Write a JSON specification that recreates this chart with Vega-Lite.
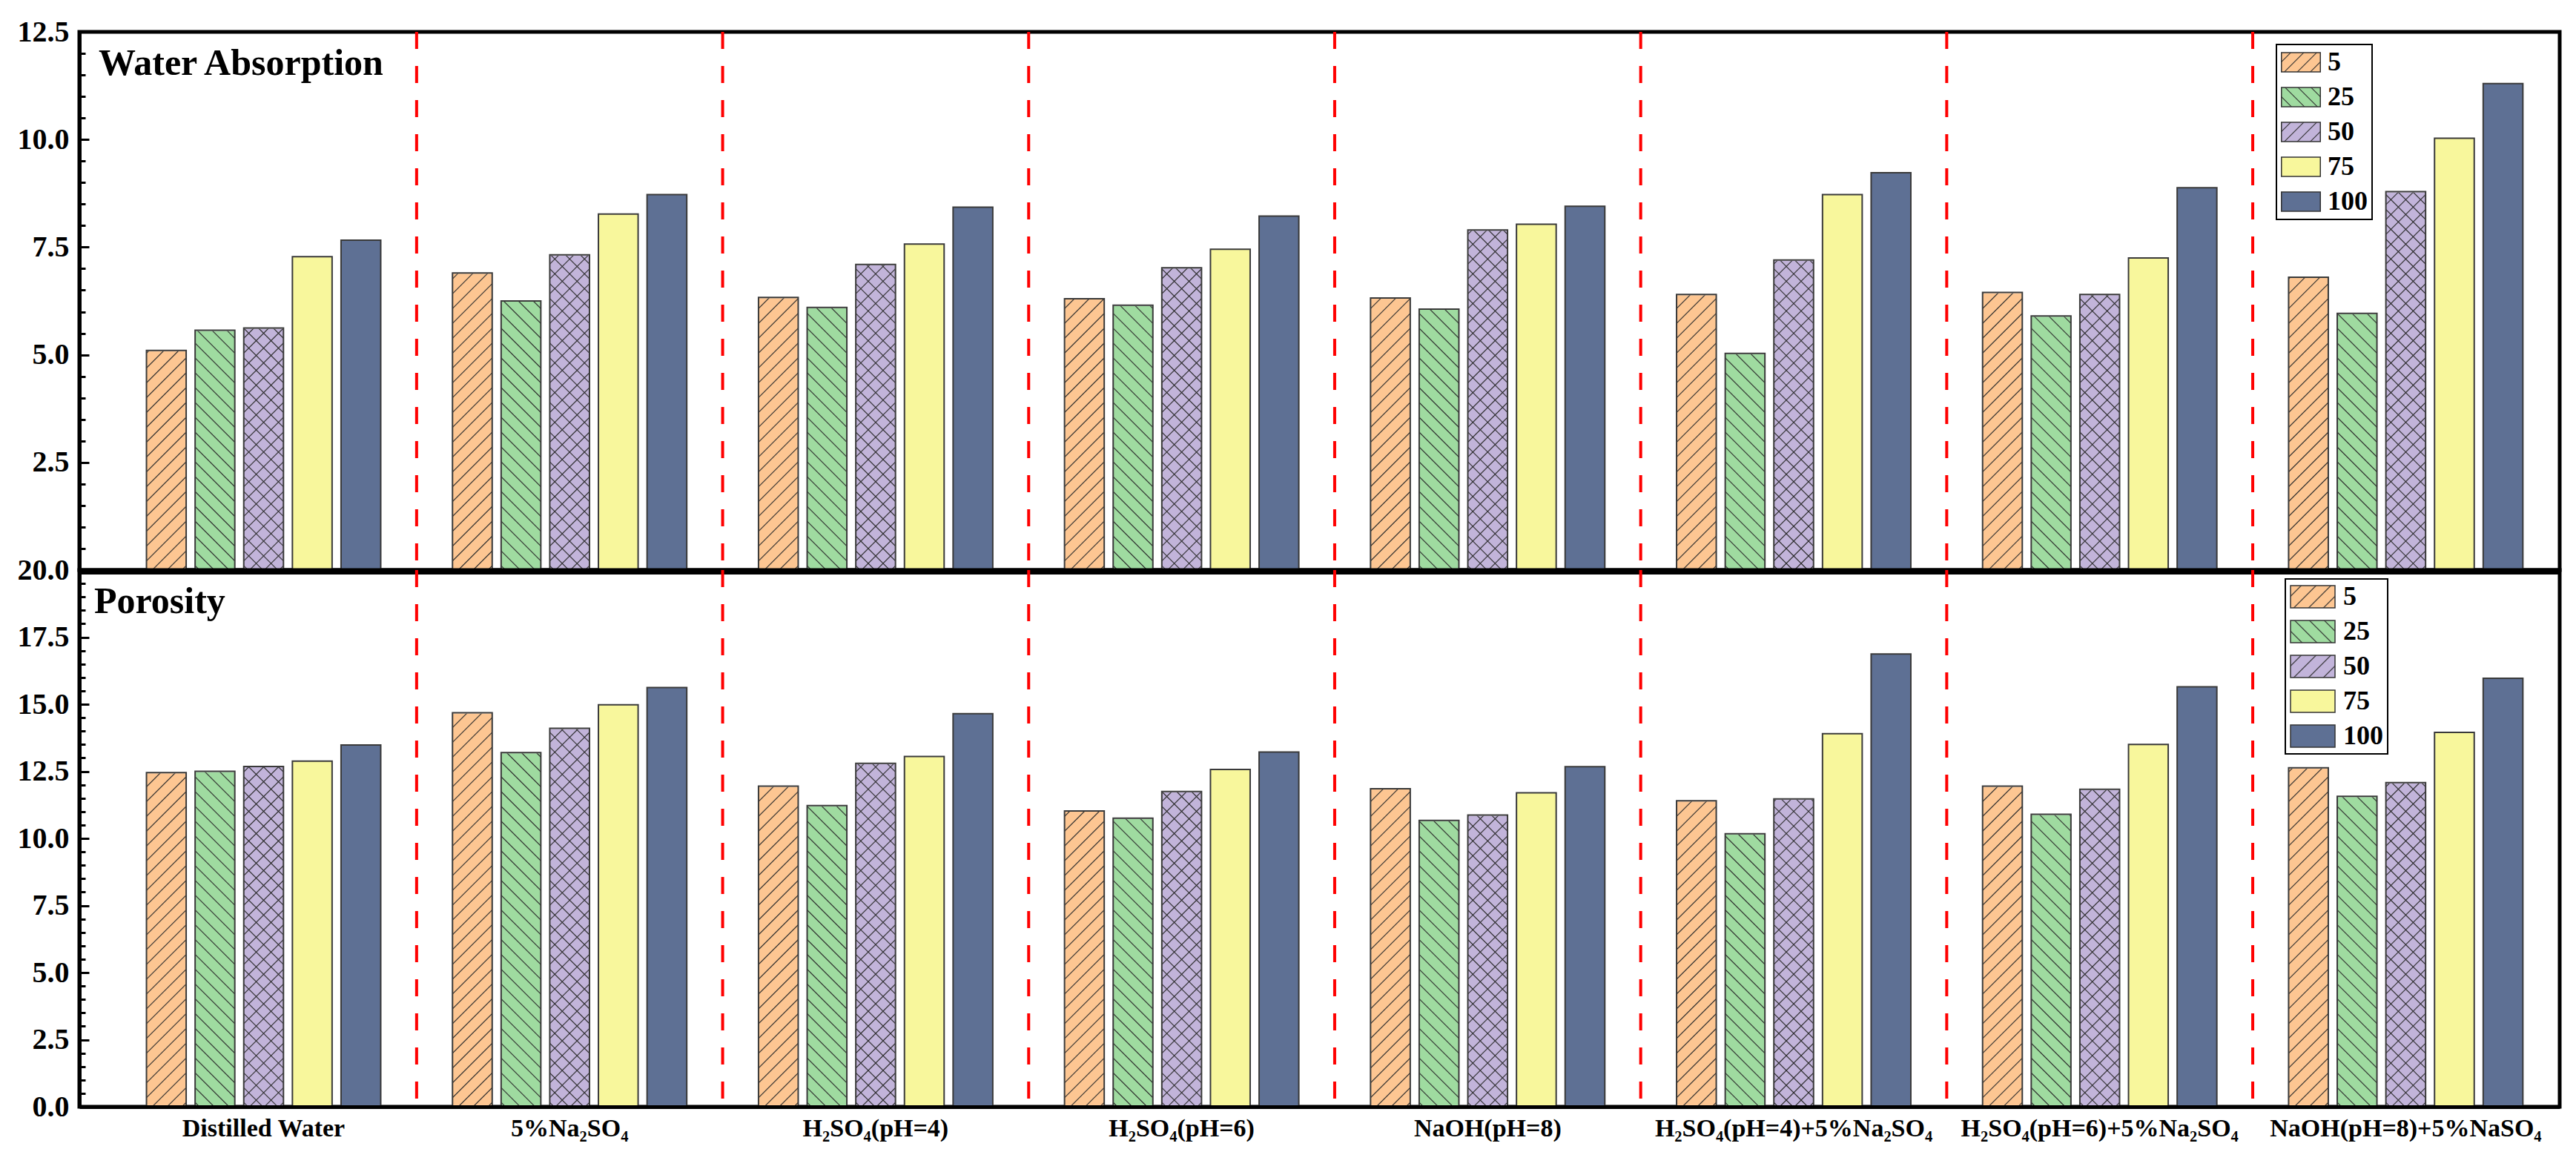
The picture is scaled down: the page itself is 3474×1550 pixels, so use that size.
{
"$schema":"https://vega.github.io/schema/vega-lite/v6.json",
"background":"white",
"padding":{"left":20,"top":20,"right":0,"bottom":0},
"bounds":"flush",
"spacing":0,
"datasets":{
"wa":[
{"c":"Distilled Water","l":"5","v":5.1},{"c":"Distilled Water","l":"25","v":5.57},{"c":"Distilled Water","l":"50","v":5.62},{"c":"Distilled Water","l":"75","v":7.28},{"c":"Distilled Water","l":"100","v":7.66},
{"c":"5%Na₂SO₄","l":"5","v":6.9},{"c":"5%Na₂SO₄","l":"25","v":6.25},{"c":"5%Na₂SO₄","l":"50","v":7.32},{"c":"5%Na₂SO₄","l":"75","v":8.27},{"c":"5%Na₂SO₄","l":"100","v":8.72},
{"c":"H₂SO₄(pH=4)","l":"5","v":6.33},{"c":"H₂SO₄(pH=4)","l":"25","v":6.1},{"c":"H₂SO₄(pH=4)","l":"50","v":7.1},{"c":"H₂SO₄(pH=4)","l":"75","v":7.57},{"c":"H₂SO₄(pH=4)","l":"100","v":8.43},
{"c":"H₂SO₄(pH=6)","l":"5","v":6.3},{"c":"H₂SO₄(pH=6)","l":"25","v":6.15},{"c":"H₂SO₄(pH=6)","l":"50","v":7.02},{"c":"H₂SO₄(pH=6)","l":"75","v":7.45},{"c":"H₂SO₄(pH=6)","l":"100","v":8.22},
{"c":"NaOH(pH=8)","l":"5","v":6.32},{"c":"NaOH(pH=8)","l":"25","v":6.06},{"c":"NaOH(pH=8)","l":"50","v":7.9},{"c":"NaOH(pH=8)","l":"75","v":8.03},{"c":"NaOH(pH=8)","l":"100","v":8.45},
{"c":"H₂SO₄(pH=4)+5%Na₂SO₄","l":"5","v":6.4},{"c":"H₂SO₄(pH=4)+5%Na₂SO₄","l":"25","v":5.03},{"c":"H₂SO₄(pH=4)+5%Na₂SO₄","l":"50","v":7.2},{"c":"H₂SO₄(pH=4)+5%Na₂SO₄","l":"75","v":8.72},{"c":"H₂SO₄(pH=4)+5%Na₂SO₄","l":"100","v":9.23},
{"c":"H₂SO₄(pH=6)+5%Na₂SO₄","l":"5","v":6.45},{"c":"H₂SO₄(pH=6)+5%Na₂SO₄","l":"25","v":5.9},{"c":"H₂SO₄(pH=6)+5%Na₂SO₄","l":"50","v":6.4},{"c":"H₂SO₄(pH=6)+5%Na₂SO₄","l":"75","v":7.25},{"c":"H₂SO₄(pH=6)+5%Na₂SO₄","l":"100","v":8.88},
{"c":"NaOH(pH=8)+5%NaSO₄","l":"5","v":6.8},{"c":"NaOH(pH=8)+5%NaSO₄","l":"25","v":5.96},{"c":"NaOH(pH=8)+5%NaSO₄","l":"50","v":8.79},{"c":"NaOH(pH=8)+5%NaSO₄","l":"75","v":10.03},{"c":"NaOH(pH=8)+5%NaSO₄","l":"100","v":11.3}
],
"po":[
{"c":"Distilled Water","l":"5","v":12.45},{"c":"Distilled Water","l":"25","v":12.5},{"c":"Distilled Water","l":"50","v":12.68},{"c":"Distilled Water","l":"75","v":12.88},{"c":"Distilled Water","l":"100","v":13.48},
{"c":"5%Na₂SO₄","l":"5","v":14.68},{"c":"5%Na₂SO₄","l":"25","v":13.2},{"c":"5%Na₂SO₄","l":"50","v":14.1},{"c":"5%Na₂SO₄","l":"75","v":14.98},{"c":"5%Na₂SO₄","l":"100","v":15.62},
{"c":"H₂SO₄(pH=4)","l":"5","v":11.95},{"c":"H₂SO₄(pH=4)","l":"25","v":11.22},{"c":"H₂SO₄(pH=4)","l":"50","v":12.8},{"c":"H₂SO₄(pH=4)","l":"75","v":13.05},{"c":"H₂SO₄(pH=4)","l":"100","v":14.65},
{"c":"H₂SO₄(pH=6)","l":"5","v":11.02},{"c":"H₂SO₄(pH=6)","l":"25","v":10.75},{"c":"H₂SO₄(pH=6)","l":"50","v":11.75},{"c":"H₂SO₄(pH=6)","l":"75","v":12.57},{"c":"H₂SO₄(pH=6)","l":"100","v":13.22},
{"c":"NaOH(pH=8)","l":"5","v":11.85},{"c":"NaOH(pH=8)","l":"25","v":10.67},{"c":"NaOH(pH=8)","l":"50","v":10.87},{"c":"NaOH(pH=8)","l":"75","v":11.7},{"c":"NaOH(pH=8)","l":"100","v":12.67},
{"c":"H₂SO₄(pH=4)+5%Na₂SO₄","l":"5","v":11.4},{"c":"H₂SO₄(pH=4)+5%Na₂SO₄","l":"25","v":10.17},{"c":"H₂SO₄(pH=4)+5%Na₂SO₄","l":"50","v":11.47},{"c":"H₂SO₄(pH=4)+5%Na₂SO₄","l":"75","v":13.9},{"c":"H₂SO₄(pH=4)+5%Na₂SO₄","l":"100","v":16.87},
{"c":"H₂SO₄(pH=6)+5%Na₂SO₄","l":"5","v":11.95},{"c":"H₂SO₄(pH=6)+5%Na₂SO₄","l":"25","v":10.9},{"c":"H₂SO₄(pH=6)+5%Na₂SO₄","l":"50","v":11.83},{"c":"H₂SO₄(pH=6)+5%Na₂SO₄","l":"75","v":13.5},{"c":"H₂SO₄(pH=6)+5%Na₂SO₄","l":"100","v":15.65},
{"c":"NaOH(pH=8)+5%NaSO₄","l":"5","v":12.63},{"c":"NaOH(pH=8)+5%NaSO₄","l":"25","v":11.57},{"c":"NaOH(pH=8)+5%NaSO₄","l":"50","v":12.08},{"c":"NaOH(pH=8)+5%NaSO₄","l":"75","v":13.95},{"c":"NaOH(pH=8)+5%NaSO₄","l":"100","v":15.97}
],
"sep":[{"c":"Distilled Water"},{"c":"5%Na₂SO₄"},{"c":"H₂SO₄(pH=4)"},{"c":"H₂SO₄(pH=6)"},{"c":"NaOH(pH=8)"},{"c":"H₂SO₄(pH=4)+5%Na₂SO₄"},{"c":"H₂SO₄(pH=6)+5%Na₂SO₄"}]
},
"vconcat":[
{
"width":3345,"height":726,
"title":{"text":"Water Absorption","offset":-88,"dx":26},
"resolve":{"axis":{"y":"independent"}},
"layer":[
{"data":{"name":"wa"},"mark":{"type":"bar"},
"encoding":{
"x":{"field":"c","type":"nominal","scale":{"domain":["Distilled Water","5%Na₂SO₄","H₂SO₄(pH=4)","H₂SO₄(pH=6)","NaOH(pH=8)","H₂SO₄(pH=4)+5%Na₂SO₄","H₂SO₄(pH=6)+5%Na₂SO₄","NaOH(pH=8)+5%NaSO₄"],"paddingInner":0,"paddingOuter":0.0526,"align":0.971},"axis":{"title":null,"labels":false,"ticks":false,"domain":true,"offset":3,"zindex":1}},
"xOffset":{"field":"l","type":"nominal","scale":{"domain":["5","25","50","75","100"],"paddingInner":0.184,"paddingOuter":0.7375}},
"y":{"field":"v","type":"quantitative","scale":{"domain":[0,12.5],"nice":false},"axis":{"orient":"left","title":null,"values":[2.5,5,7.5,10,12.5],"format":".1f","tickSize":-13,"labelPadding":27,"labelOverlap":false,"labelFlush":false,"labelFontSize":40}},
"color":{"field":"l","type":"nominal","scale":{"domain":["5","25","50","75","100"],"range":["#FDC692","#9FDBA0","#C2B4DA","#F8F79C","#5E7094"]},"legend":null},
"opacity":{"field":"l","type":"ordinal","sort":["5","25","50","75","100"],"scale":{"type":"ordinal","range":[1,1,1,1,1]},
"legend":{"title":null,"orient":"none","legendX":2963,"legendY":17,"direction":"vertical","symbolType":"M-1,-0.5H1V0.5H-1Z","symbolSize":2756,"clipHeight":36,"rowPadding":11,"padding":6,"labelOffset":9,"labelFont":"Liberation Serif","labelFontWeight":"bold","labelFontSize":36,"labelColor":"black","labelLimit":0,"strokeColor":"black","fillColor":"white","symbolStrokeColor":"#333333","symbolStrokeWidth":1.5,
"encoding":{"symbols":{"fill":{"condition":[
{"test":"datum.value == '5'","value":{"gradient":"linear","x1":0,"y1":0,"x2":1.24,"y2":0.62,"stops":[{"offset":0.1373,"color":"#FDC692"},{"offset":0.1553,"color":"#2b2b2b"},{"offset":0.1733,"color":"#FDC692"},{"offset":0.3524,"color":"#FDC692"},{"offset":0.3704,"color":"#2b2b2b"},{"offset":0.3884,"color":"#FDC692"},{"offset":0.5674,"color":"#FDC692"},{"offset":0.5854,"color":"#2b2b2b"},{"offset":0.6034,"color":"#FDC692"},{"offset":0.7824,"color":"#FDC692"},{"offset":0.8004,"color":"#2b2b2b"},{"offset":0.8184,"color":"#FDC692"}]}},
{"test":"datum.value == '25'","value":{"gradient":"linear","x1":1,"y1":0,"x2":-0.24,"y2":0.62,"stops":[{"offset":0.1373,"color":"#9FDBA0"},{"offset":0.1553,"color":"#2b2b2b"},{"offset":0.1733,"color":"#9FDBA0"},{"offset":0.3524,"color":"#9FDBA0"},{"offset":0.3704,"color":"#2b2b2b"},{"offset":0.3884,"color":"#9FDBA0"},{"offset":0.5674,"color":"#9FDBA0"},{"offset":0.5854,"color":"#2b2b2b"},{"offset":0.6034,"color":"#9FDBA0"},{"offset":0.7824,"color":"#9FDBA0"},{"offset":0.8004,"color":"#2b2b2b"},{"offset":0.8184,"color":"#9FDBA0"}]}},
{"test":"datum.value == '50'","value":{"gradient":"linear","x1":0,"y1":0,"x2":1.24,"y2":0.62,"stops":[{"offset":0.1373,"color":"#C2B4DA"},{"offset":0.1553,"color":"#2b2b2b"},{"offset":0.1733,"color":"#C2B4DA"},{"offset":0.3524,"color":"#C2B4DA"},{"offset":0.3704,"color":"#2b2b2b"},{"offset":0.3884,"color":"#C2B4DA"},{"offset":0.5674,"color":"#C2B4DA"},{"offset":0.5854,"color":"#2b2b2b"},{"offset":0.6034,"color":"#C2B4DA"},{"offset":0.7824,"color":"#C2B4DA"},{"offset":0.8004,"color":"#2b2b2b"},{"offset":0.8184,"color":"#C2B4DA"}]}},
{"test":"datum.value == '75'","value":"#F8F79C"}],"value":"#5E7094"},"stroke":{"value":"#333333"},"strokeWidth":{"value":1.5}}}}}
}},
{"data":{"name":"wa"},"transform":[{"filter":{"field":"l","equal":"5"}}],"mark":{"type":"bar","fill":"#FDC692"},
"encoding":{"x":{"field":"c","type":"nominal"},"xOffset":{"field":"l","type":"nominal"},"y":{"datum":0,"axis":null},"y2":{"datum":10}}},
{"data":{"name":"wa"},"transform":[{"filter":{"field":"l","equal":"25"}}],"mark":{"type":"bar","fill":"#9FDBA0"},
"encoding":{"x":{"field":"c","type":"nominal"},"xOffset":{"field":"l","type":"nominal"},"y":{"datum":0,"axis":null},"y2":{"datum":10}}},
{"data":{"name":"wa"},"transform":[{"filter":{"field":"l","equal":"50"}}],"mark":{"type":"bar","fill":"#C2B4DA"},
"encoding":{"x":{"field":"c","type":"nominal"},"xOffset":{"field":"l","type":"nominal"},"y":{"datum":0,"axis":null},"y2":{"datum":10}}},
{"data":{"name":"wa"},"transform":[{"filter":{"field":"l","oneOf":["5","50"]}}],
"mark":{"type":"bar","fill":{"gradient":"linear","x1":0,"y1":0,"x2":0.10147,"y2":1.1,"stops":[{"offset":0.0095,"color":"rgba(43,43,43,0)"},{"offset":0.012,"color":"#2b2b2b"},{"offset":0.0145,"color":"rgba(43,43,43,0)"},{"offset":0.0406,"color":"rgba(43,43,43,0)"},{"offset":0.0431,"color":"#2b2b2b"},{"offset":0.0456,"color":"rgba(43,43,43,0)"},{"offset":0.0717,"color":"rgba(43,43,43,0)"},{"offset":0.0742,"color":"#2b2b2b"},{"offset":0.0767,"color":"rgba(43,43,43,0)"},{"offset":0.1028,"color":"rgba(43,43,43,0)"},{"offset":0.1053,"color":"#2b2b2b"},{"offset":0.1078,"color":"rgba(43,43,43,0)"},{"offset":0.1338,"color":"rgba(43,43,43,0)"},{"offset":0.1363,"color":"#2b2b2b"},{"offset":0.1388,"color":"rgba(43,43,43,0)"},{"offset":0.1649,"color":"rgba(43,43,43,0)"},{"offset":0.1674,"color":"#2b2b2b"},{"offset":0.1699,"color":"rgba(43,43,43,0)"},{"offset":0.196,"color":"rgba(43,43,43,0)"},{"offset":0.1985,"color":"#2b2b2b"},{"offset":0.201,"color":"rgba(43,43,43,0)"},{"offset":0.2271,"color":"rgba(43,43,43,0)"},{"offset":0.2296,"color":"#2b2b2b"},{"offset":0.2321,"color":"rgba(43,43,43,0)"},{"offset":0.2582,"color":"rgba(43,43,43,0)"},{"offset":0.2607,"color":"#2b2b2b"},{"offset":0.2632,"color":"rgba(43,43,43,0)"},{"offset":0.2893,"color":"rgba(43,43,43,0)"},{"offset":0.2918,"color":"#2b2b2b"},{"offset":0.2943,"color":"rgba(43,43,43,0)"},{"offset":0.3204,"color":"rgba(43,43,43,0)"},{"offset":0.3229,"color":"#2b2b2b"},{"offset":0.3254,"color":"rgba(43,43,43,0)"},{"offset":0.3514,"color":"rgba(43,43,43,0)"},{"offset":0.3539,"color":"#2b2b2b"},{"offset":0.3564,"color":"rgba(43,43,43,0)"},{"offset":0.3825,"color":"rgba(43,43,43,0)"},{"offset":0.385,"color":"#2b2b2b"},{"offset":0.3875,"color":"rgba(43,43,43,0)"},{"offset":0.4136,"color":"rgba(43,43,43,0)"},{"offset":0.4161,"color":"#2b2b2b"},{"offset":0.4186,"color":"rgba(43,43,43,0)"},{"offset":0.4447,"color":"rgba(43,43,43,0)"},{"offset":0.4472,"color":"#2b2b2b"},{"offset":0.4497,"color":"rgba(43,43,43,0)"},{"offset":0.4758,"color":"rgba(43,43,43,0)"},{"offset":0.4783,"color":"#2b2b2b"},{"offset":0.4808,"color":"rgba(43,43,43,0)"},{"offset":0.5069,"color":"rgba(43,43,43,0)"},{"offset":0.5094,"color":"#2b2b2b"},{"offset":0.5119,"color":"rgba(43,43,43,0)"},{"offset":0.5379,"color":"rgba(43,43,43,0)"},{"offset":0.5404,"color":"#2b2b2b"},{"offset":0.5429,"color":"rgba(43,43,43,0)"},{"offset":0.569,"color":"rgba(43,43,43,0)"},{"offset":0.5715,"color":"#2b2b2b"},{"offset":0.574,"color":"rgba(43,43,43,0)"},{"offset":0.6001,"color":"rgba(43,43,43,0)"},{"offset":0.6026,"color":"#2b2b2b"},{"offset":0.6051,"color":"rgba(43,43,43,0)"},{"offset":0.6312,"color":"rgba(43,43,43,0)"},{"offset":0.6337,"color":"#2b2b2b"},{"offset":0.6362,"color":"rgba(43,43,43,0)"},{"offset":0.6623,"color":"rgba(43,43,43,0)"},{"offset":0.6648,"color":"#2b2b2b"},{"offset":0.6673,"color":"rgba(43,43,43,0)"},{"offset":0.6934,"color":"rgba(43,43,43,0)"},{"offset":0.6959,"color":"#2b2b2b"},{"offset":0.6984,"color":"rgba(43,43,43,0)"},{"offset":0.7245,"color":"rgba(43,43,43,0)"},{"offset":0.727,"color":"#2b2b2b"},{"offset":0.7295,"color":"rgba(43,43,43,0)"},{"offset":0.7555,"color":"rgba(43,43,43,0)"},{"offset":0.758,"color":"#2b2b2b"},{"offset":0.7605,"color":"rgba(43,43,43,0)"},{"offset":0.7866,"color":"rgba(43,43,43,0)"},{"offset":0.7891,"color":"#2b2b2b"},{"offset":0.7916,"color":"rgba(43,43,43,0)"},{"offset":0.8177,"color":"rgba(43,43,43,0)"},{"offset":0.8202,"color":"#2b2b2b"},{"offset":0.8227,"color":"rgba(43,43,43,0)"},{"offset":0.8488,"color":"rgba(43,43,43,0)"},{"offset":0.8513,"color":"#2b2b2b"},{"offset":0.8538,"color":"rgba(43,43,43,0)"},{"offset":0.8799,"color":"rgba(43,43,43,0)"},{"offset":0.8824,"color":"#2b2b2b"},{"offset":0.8849,"color":"rgba(43,43,43,0)"},{"offset":0.911,"color":"rgba(43,43,43,0)"},{"offset":0.9135,"color":"#2b2b2b"},{"offset":0.916,"color":"rgba(43,43,43,0)"},{"offset":0.9421,"color":"rgba(43,43,43,0)"},{"offset":0.9446,"color":"#2b2b2b"},{"offset":0.9471,"color":"rgba(43,43,43,0)"},{"offset":0.9731,"color":"rgba(43,43,43,0)"},{"offset":0.9756,"color":"#2b2b2b"},{"offset":0.9781,"color":"rgba(43,43,43,0)"}]}},
"encoding":{"x":{"field":"c","type":"nominal"},"xOffset":{"field":"l","type":"nominal"},"y":{"datum":0,"axis":null},"y2":{"datum":10}}},
{"data":{"name":"wa"},"transform":[{"filter":{"field":"l","oneOf":["25","50"]}}],
"mark":{"type":"bar","fill":{"gradient":"linear","x1":1,"y1":0,"x2":0.89853,"y2":1.1,"stops":[{"offset":0.0095,"color":"rgba(43,43,43,0)"},{"offset":0.012,"color":"#2b2b2b"},{"offset":0.0145,"color":"rgba(43,43,43,0)"},{"offset":0.0406,"color":"rgba(43,43,43,0)"},{"offset":0.0431,"color":"#2b2b2b"},{"offset":0.0456,"color":"rgba(43,43,43,0)"},{"offset":0.0717,"color":"rgba(43,43,43,0)"},{"offset":0.0742,"color":"#2b2b2b"},{"offset":0.0767,"color":"rgba(43,43,43,0)"},{"offset":0.1028,"color":"rgba(43,43,43,0)"},{"offset":0.1053,"color":"#2b2b2b"},{"offset":0.1078,"color":"rgba(43,43,43,0)"},{"offset":0.1338,"color":"rgba(43,43,43,0)"},{"offset":0.1363,"color":"#2b2b2b"},{"offset":0.1388,"color":"rgba(43,43,43,0)"},{"offset":0.1649,"color":"rgba(43,43,43,0)"},{"offset":0.1674,"color":"#2b2b2b"},{"offset":0.1699,"color":"rgba(43,43,43,0)"},{"offset":0.196,"color":"rgba(43,43,43,0)"},{"offset":0.1985,"color":"#2b2b2b"},{"offset":0.201,"color":"rgba(43,43,43,0)"},{"offset":0.2271,"color":"rgba(43,43,43,0)"},{"offset":0.2296,"color":"#2b2b2b"},{"offset":0.2321,"color":"rgba(43,43,43,0)"},{"offset":0.2582,"color":"rgba(43,43,43,0)"},{"offset":0.2607,"color":"#2b2b2b"},{"offset":0.2632,"color":"rgba(43,43,43,0)"},{"offset":0.2893,"color":"rgba(43,43,43,0)"},{"offset":0.2918,"color":"#2b2b2b"},{"offset":0.2943,"color":"rgba(43,43,43,0)"},{"offset":0.3204,"color":"rgba(43,43,43,0)"},{"offset":0.3229,"color":"#2b2b2b"},{"offset":0.3254,"color":"rgba(43,43,43,0)"},{"offset":0.3514,"color":"rgba(43,43,43,0)"},{"offset":0.3539,"color":"#2b2b2b"},{"offset":0.3564,"color":"rgba(43,43,43,0)"},{"offset":0.3825,"color":"rgba(43,43,43,0)"},{"offset":0.385,"color":"#2b2b2b"},{"offset":0.3875,"color":"rgba(43,43,43,0)"},{"offset":0.4136,"color":"rgba(43,43,43,0)"},{"offset":0.4161,"color":"#2b2b2b"},{"offset":0.4186,"color":"rgba(43,43,43,0)"},{"offset":0.4447,"color":"rgba(43,43,43,0)"},{"offset":0.4472,"color":"#2b2b2b"},{"offset":0.4497,"color":"rgba(43,43,43,0)"},{"offset":0.4758,"color":"rgba(43,43,43,0)"},{"offset":0.4783,"color":"#2b2b2b"},{"offset":0.4808,"color":"rgba(43,43,43,0)"},{"offset":0.5069,"color":"rgba(43,43,43,0)"},{"offset":0.5094,"color":"#2b2b2b"},{"offset":0.5119,"color":"rgba(43,43,43,0)"},{"offset":0.5379,"color":"rgba(43,43,43,0)"},{"offset":0.5404,"color":"#2b2b2b"},{"offset":0.5429,"color":"rgba(43,43,43,0)"},{"offset":0.569,"color":"rgba(43,43,43,0)"},{"offset":0.5715,"color":"#2b2b2b"},{"offset":0.574,"color":"rgba(43,43,43,0)"},{"offset":0.6001,"color":"rgba(43,43,43,0)"},{"offset":0.6026,"color":"#2b2b2b"},{"offset":0.6051,"color":"rgba(43,43,43,0)"},{"offset":0.6312,"color":"rgba(43,43,43,0)"},{"offset":0.6337,"color":"#2b2b2b"},{"offset":0.6362,"color":"rgba(43,43,43,0)"},{"offset":0.6623,"color":"rgba(43,43,43,0)"},{"offset":0.6648,"color":"#2b2b2b"},{"offset":0.6673,"color":"rgba(43,43,43,0)"},{"offset":0.6934,"color":"rgba(43,43,43,0)"},{"offset":0.6959,"color":"#2b2b2b"},{"offset":0.6984,"color":"rgba(43,43,43,0)"},{"offset":0.7245,"color":"rgba(43,43,43,0)"},{"offset":0.727,"color":"#2b2b2b"},{"offset":0.7295,"color":"rgba(43,43,43,0)"},{"offset":0.7555,"color":"rgba(43,43,43,0)"},{"offset":0.758,"color":"#2b2b2b"},{"offset":0.7605,"color":"rgba(43,43,43,0)"},{"offset":0.7866,"color":"rgba(43,43,43,0)"},{"offset":0.7891,"color":"#2b2b2b"},{"offset":0.7916,"color":"rgba(43,43,43,0)"},{"offset":0.8177,"color":"rgba(43,43,43,0)"},{"offset":0.8202,"color":"#2b2b2b"},{"offset":0.8227,"color":"rgba(43,43,43,0)"},{"offset":0.8488,"color":"rgba(43,43,43,0)"},{"offset":0.8513,"color":"#2b2b2b"},{"offset":0.8538,"color":"rgba(43,43,43,0)"},{"offset":0.8799,"color":"rgba(43,43,43,0)"},{"offset":0.8824,"color":"#2b2b2b"},{"offset":0.8849,"color":"rgba(43,43,43,0)"},{"offset":0.911,"color":"rgba(43,43,43,0)"},{"offset":0.9135,"color":"#2b2b2b"},{"offset":0.916,"color":"rgba(43,43,43,0)"},{"offset":0.9421,"color":"rgba(43,43,43,0)"},{"offset":0.9446,"color":"#2b2b2b"},{"offset":0.9471,"color":"rgba(43,43,43,0)"},{"offset":0.9731,"color":"rgba(43,43,43,0)"},{"offset":0.9756,"color":"#2b2b2b"},{"offset":0.9781,"color":"rgba(43,43,43,0)"}]}},
"encoding":{"x":{"field":"c","type":"nominal"},"xOffset":{"field":"l","type":"nominal"},"y":{"datum":0,"axis":null},"y2":{"datum":10}}},
{"data":{"name":"wa"},"transform":[{"filter":{"field":"l","oneOf":["5","25","50"]}}],"mark":{"type":"bar","fill":"white","stroke":"white","strokeWidth":2},
"encoding":{"x":{"field":"c","type":"nominal"},"xOffset":{"field":"l","type":"nominal"},"y":{"field":"v","type":"quantitative","axis":null},"y2":{"datum":10}}},
{"data":{"name":"wa"},"mark":{"type":"bar","fillOpacity":0,"stroke":"#3a3a3a","strokeWidth":2},
"encoding":{"x":{"field":"c","type":"nominal"},"xOffset":{"field":"l","type":"nominal"},"y":{"field":"v","type":"quantitative","axis":{"orient":"left","title":null,"values":[0.5,1,1.5,2,3,3.5,4,4.5,5.5,6,6.5,7,8,8.5,9,9.5,10.5,11,11.5,12],"labels":false,"domain":false,"tickSize":-8,"grid":false}}}},
{"data":{"name":"sep"},"mark":{"type":"rule","color":"#ff0000","strokeWidth":4,"strokeDash":[23,23]},
"encoding":{"x":{"field":"c","type":"nominal","bandPosition":1}}}
]
},
{
"width":3345,"height":724,
"title":{"text":"Porosity","offset":-88,"dx":20},
"resolve":{"axis":{"y":"independent"}},
"layer":[
{"data":{"name":"po"},"mark":{"type":"bar"},
"encoding":{
"x":{"field":"c","type":"nominal","scale":{"domain":["Distilled Water","5%Na₂SO₄","H₂SO₄(pH=4)","H₂SO₄(pH=6)","NaOH(pH=8)","H₂SO₄(pH=4)+5%Na₂SO₄","H₂SO₄(pH=6)+5%Na₂SO₄","NaOH(pH=8)+5%NaSO₄"],"paddingInner":0,"paddingOuter":0.0526,"align":0.971},"axis":{"title":null,"ticks":false,"labelPadding":12,"labelAngle":0,"labelFontSize":34,"labelLimit":0,"labelOverlap":false,"zindex":1}},
"xOffset":{"field":"l","type":"nominal","scale":{"domain":["5","25","50","75","100"],"paddingInner":0.184,"paddingOuter":0.7375}},
"y":{"field":"v","type":"quantitative","scale":{"domain":[0,20],"nice":false},"axis":{"orient":"left","title":null,"values":[0,2.5,5,7.5,10,12.5,15,17.5,20],"format":".1f","tickSize":-13,"labelPadding":27,"labelOverlap":false,"labelFlush":false,"labelFontSize":40}},
"color":{"field":"l","type":"nominal","scale":{"domain":["5","25","50","75","100"],"range":["#FDC692","#9FDBA0","#C2B4DA","#F8F79C","#5E7094"]},"legend":null},
"opacity":{"field":"l","type":"ordinal","sort":["5","25","50","75","100"],"scale":{"type":"ordinal","range":[1,1,1,1,1]},
"legend":{"title":null,"orient":"none","legendX":2975,"legendY":12,"direction":"vertical","symbolType":"M-1,-0.5H1V0.5H-1Z","symbolSize":3600,"clipHeight":36,"rowPadding":11,"padding":6,"labelOffset":10,"labelFont":"Liberation Serif","labelFontWeight":"bold","labelFontSize":36,"labelColor":"black","labelLimit":0,"strokeColor":"black","fillColor":"white","symbolStrokeColor":"#333333","symbolStrokeWidth":1.5,
"encoding":{"symbols":{"fill":{"condition":[
{"test":"datum.value == '5'","value":{"gradient":"linear","x1":0,"y1":0,"x2":1.24,"y2":0.62,"stops":[{"offset":0.1373,"color":"#FDC692"},{"offset":0.1553,"color":"#2b2b2b"},{"offset":0.1733,"color":"#FDC692"},{"offset":0.3524,"color":"#FDC692"},{"offset":0.3704,"color":"#2b2b2b"},{"offset":0.3884,"color":"#FDC692"},{"offset":0.5674,"color":"#FDC692"},{"offset":0.5854,"color":"#2b2b2b"},{"offset":0.6034,"color":"#FDC692"},{"offset":0.7824,"color":"#FDC692"},{"offset":0.8004,"color":"#2b2b2b"},{"offset":0.8184,"color":"#FDC692"}]}},
{"test":"datum.value == '25'","value":{"gradient":"linear","x1":1,"y1":0,"x2":-0.24,"y2":0.62,"stops":[{"offset":0.1373,"color":"#9FDBA0"},{"offset":0.1553,"color":"#2b2b2b"},{"offset":0.1733,"color":"#9FDBA0"},{"offset":0.3524,"color":"#9FDBA0"},{"offset":0.3704,"color":"#2b2b2b"},{"offset":0.3884,"color":"#9FDBA0"},{"offset":0.5674,"color":"#9FDBA0"},{"offset":0.5854,"color":"#2b2b2b"},{"offset":0.6034,"color":"#9FDBA0"},{"offset":0.7824,"color":"#9FDBA0"},{"offset":0.8004,"color":"#2b2b2b"},{"offset":0.8184,"color":"#9FDBA0"}]}},
{"test":"datum.value == '50'","value":{"gradient":"linear","x1":0,"y1":0,"x2":1.24,"y2":0.62,"stops":[{"offset":0.1373,"color":"#C2B4DA"},{"offset":0.1553,"color":"#2b2b2b"},{"offset":0.1733,"color":"#C2B4DA"},{"offset":0.3524,"color":"#C2B4DA"},{"offset":0.3704,"color":"#2b2b2b"},{"offset":0.3884,"color":"#C2B4DA"},{"offset":0.5674,"color":"#C2B4DA"},{"offset":0.5854,"color":"#2b2b2b"},{"offset":0.6034,"color":"#C2B4DA"},{"offset":0.7824,"color":"#C2B4DA"},{"offset":0.8004,"color":"#2b2b2b"},{"offset":0.8184,"color":"#C2B4DA"}]}},
{"test":"datum.value == '75'","value":"#F8F79C"}],"value":"#5E7094"},"stroke":{"value":"#333333"},"strokeWidth":{"value":1.5}}}}}
}},
{"data":{"name":"po"},"transform":[{"filter":{"field":"l","equal":"5"}}],"mark":{"type":"bar","fill":"#FDC692"},
"encoding":{"x":{"field":"c","type":"nominal"},"xOffset":{"field":"l","type":"nominal"},"y":{"datum":0,"axis":null},"y2":{"datum":16}}},
{"data":{"name":"po"},"transform":[{"filter":{"field":"l","equal":"25"}}],"mark":{"type":"bar","fill":"#9FDBA0"},
"encoding":{"x":{"field":"c","type":"nominal"},"xOffset":{"field":"l","type":"nominal"},"y":{"datum":0,"axis":null},"y2":{"datum":16}}},
{"data":{"name":"po"},"transform":[{"filter":{"field":"l","equal":"50"}}],"mark":{"type":"bar","fill":"#C2B4DA"},
"encoding":{"x":{"field":"c","type":"nominal"},"xOffset":{"field":"l","type":"nominal"},"y":{"datum":0,"axis":null},"y2":{"datum":16}}},
{"data":{"name":"po"},"transform":[{"filter":{"field":"l","oneOf":["5","50"]}}],
"mark":{"type":"bar","fill":{"gradient":"linear","x1":0,"y1":0,"x2":0.10147,"y2":1.1,"stops":[{"offset":0.0095,"color":"rgba(43,43,43,0)"},{"offset":0.012,"color":"#2b2b2b"},{"offset":0.0145,"color":"rgba(43,43,43,0)"},{"offset":0.0406,"color":"rgba(43,43,43,0)"},{"offset":0.0431,"color":"#2b2b2b"},{"offset":0.0456,"color":"rgba(43,43,43,0)"},{"offset":0.0717,"color":"rgba(43,43,43,0)"},{"offset":0.0742,"color":"#2b2b2b"},{"offset":0.0767,"color":"rgba(43,43,43,0)"},{"offset":0.1028,"color":"rgba(43,43,43,0)"},{"offset":0.1053,"color":"#2b2b2b"},{"offset":0.1078,"color":"rgba(43,43,43,0)"},{"offset":0.1338,"color":"rgba(43,43,43,0)"},{"offset":0.1363,"color":"#2b2b2b"},{"offset":0.1388,"color":"rgba(43,43,43,0)"},{"offset":0.1649,"color":"rgba(43,43,43,0)"},{"offset":0.1674,"color":"#2b2b2b"},{"offset":0.1699,"color":"rgba(43,43,43,0)"},{"offset":0.196,"color":"rgba(43,43,43,0)"},{"offset":0.1985,"color":"#2b2b2b"},{"offset":0.201,"color":"rgba(43,43,43,0)"},{"offset":0.2271,"color":"rgba(43,43,43,0)"},{"offset":0.2296,"color":"#2b2b2b"},{"offset":0.2321,"color":"rgba(43,43,43,0)"},{"offset":0.2582,"color":"rgba(43,43,43,0)"},{"offset":0.2607,"color":"#2b2b2b"},{"offset":0.2632,"color":"rgba(43,43,43,0)"},{"offset":0.2893,"color":"rgba(43,43,43,0)"},{"offset":0.2918,"color":"#2b2b2b"},{"offset":0.2943,"color":"rgba(43,43,43,0)"},{"offset":0.3204,"color":"rgba(43,43,43,0)"},{"offset":0.3229,"color":"#2b2b2b"},{"offset":0.3254,"color":"rgba(43,43,43,0)"},{"offset":0.3514,"color":"rgba(43,43,43,0)"},{"offset":0.3539,"color":"#2b2b2b"},{"offset":0.3564,"color":"rgba(43,43,43,0)"},{"offset":0.3825,"color":"rgba(43,43,43,0)"},{"offset":0.385,"color":"#2b2b2b"},{"offset":0.3875,"color":"rgba(43,43,43,0)"},{"offset":0.4136,"color":"rgba(43,43,43,0)"},{"offset":0.4161,"color":"#2b2b2b"},{"offset":0.4186,"color":"rgba(43,43,43,0)"},{"offset":0.4447,"color":"rgba(43,43,43,0)"},{"offset":0.4472,"color":"#2b2b2b"},{"offset":0.4497,"color":"rgba(43,43,43,0)"},{"offset":0.4758,"color":"rgba(43,43,43,0)"},{"offset":0.4783,"color":"#2b2b2b"},{"offset":0.4808,"color":"rgba(43,43,43,0)"},{"offset":0.5069,"color":"rgba(43,43,43,0)"},{"offset":0.5094,"color":"#2b2b2b"},{"offset":0.5119,"color":"rgba(43,43,43,0)"},{"offset":0.5379,"color":"rgba(43,43,43,0)"},{"offset":0.5404,"color":"#2b2b2b"},{"offset":0.5429,"color":"rgba(43,43,43,0)"},{"offset":0.569,"color":"rgba(43,43,43,0)"},{"offset":0.5715,"color":"#2b2b2b"},{"offset":0.574,"color":"rgba(43,43,43,0)"},{"offset":0.6001,"color":"rgba(43,43,43,0)"},{"offset":0.6026,"color":"#2b2b2b"},{"offset":0.6051,"color":"rgba(43,43,43,0)"},{"offset":0.6312,"color":"rgba(43,43,43,0)"},{"offset":0.6337,"color":"#2b2b2b"},{"offset":0.6362,"color":"rgba(43,43,43,0)"},{"offset":0.6623,"color":"rgba(43,43,43,0)"},{"offset":0.6648,"color":"#2b2b2b"},{"offset":0.6673,"color":"rgba(43,43,43,0)"},{"offset":0.6934,"color":"rgba(43,43,43,0)"},{"offset":0.6959,"color":"#2b2b2b"},{"offset":0.6984,"color":"rgba(43,43,43,0)"},{"offset":0.7245,"color":"rgba(43,43,43,0)"},{"offset":0.727,"color":"#2b2b2b"},{"offset":0.7295,"color":"rgba(43,43,43,0)"},{"offset":0.7555,"color":"rgba(43,43,43,0)"},{"offset":0.758,"color":"#2b2b2b"},{"offset":0.7605,"color":"rgba(43,43,43,0)"},{"offset":0.7866,"color":"rgba(43,43,43,0)"},{"offset":0.7891,"color":"#2b2b2b"},{"offset":0.7916,"color":"rgba(43,43,43,0)"},{"offset":0.8177,"color":"rgba(43,43,43,0)"},{"offset":0.8202,"color":"#2b2b2b"},{"offset":0.8227,"color":"rgba(43,43,43,0)"},{"offset":0.8488,"color":"rgba(43,43,43,0)"},{"offset":0.8513,"color":"#2b2b2b"},{"offset":0.8538,"color":"rgba(43,43,43,0)"},{"offset":0.8799,"color":"rgba(43,43,43,0)"},{"offset":0.8824,"color":"#2b2b2b"},{"offset":0.8849,"color":"rgba(43,43,43,0)"},{"offset":0.911,"color":"rgba(43,43,43,0)"},{"offset":0.9135,"color":"#2b2b2b"},{"offset":0.916,"color":"rgba(43,43,43,0)"},{"offset":0.9421,"color":"rgba(43,43,43,0)"},{"offset":0.9446,"color":"#2b2b2b"},{"offset":0.9471,"color":"rgba(43,43,43,0)"},{"offset":0.9731,"color":"rgba(43,43,43,0)"},{"offset":0.9756,"color":"#2b2b2b"},{"offset":0.9781,"color":"rgba(43,43,43,0)"}]}},
"encoding":{"x":{"field":"c","type":"nominal"},"xOffset":{"field":"l","type":"nominal"},"y":{"datum":0,"axis":null},"y2":{"datum":16}}},
{"data":{"name":"po"},"transform":[{"filter":{"field":"l","oneOf":["25","50"]}}],
"mark":{"type":"bar","fill":{"gradient":"linear","x1":1,"y1":0,"x2":0.89853,"y2":1.1,"stops":[{"offset":0.0095,"color":"rgba(43,43,43,0)"},{"offset":0.012,"color":"#2b2b2b"},{"offset":0.0145,"color":"rgba(43,43,43,0)"},{"offset":0.0406,"color":"rgba(43,43,43,0)"},{"offset":0.0431,"color":"#2b2b2b"},{"offset":0.0456,"color":"rgba(43,43,43,0)"},{"offset":0.0717,"color":"rgba(43,43,43,0)"},{"offset":0.0742,"color":"#2b2b2b"},{"offset":0.0767,"color":"rgba(43,43,43,0)"},{"offset":0.1028,"color":"rgba(43,43,43,0)"},{"offset":0.1053,"color":"#2b2b2b"},{"offset":0.1078,"color":"rgba(43,43,43,0)"},{"offset":0.1338,"color":"rgba(43,43,43,0)"},{"offset":0.1363,"color":"#2b2b2b"},{"offset":0.1388,"color":"rgba(43,43,43,0)"},{"offset":0.1649,"color":"rgba(43,43,43,0)"},{"offset":0.1674,"color":"#2b2b2b"},{"offset":0.1699,"color":"rgba(43,43,43,0)"},{"offset":0.196,"color":"rgba(43,43,43,0)"},{"offset":0.1985,"color":"#2b2b2b"},{"offset":0.201,"color":"rgba(43,43,43,0)"},{"offset":0.2271,"color":"rgba(43,43,43,0)"},{"offset":0.2296,"color":"#2b2b2b"},{"offset":0.2321,"color":"rgba(43,43,43,0)"},{"offset":0.2582,"color":"rgba(43,43,43,0)"},{"offset":0.2607,"color":"#2b2b2b"},{"offset":0.2632,"color":"rgba(43,43,43,0)"},{"offset":0.2893,"color":"rgba(43,43,43,0)"},{"offset":0.2918,"color":"#2b2b2b"},{"offset":0.2943,"color":"rgba(43,43,43,0)"},{"offset":0.3204,"color":"rgba(43,43,43,0)"},{"offset":0.3229,"color":"#2b2b2b"},{"offset":0.3254,"color":"rgba(43,43,43,0)"},{"offset":0.3514,"color":"rgba(43,43,43,0)"},{"offset":0.3539,"color":"#2b2b2b"},{"offset":0.3564,"color":"rgba(43,43,43,0)"},{"offset":0.3825,"color":"rgba(43,43,43,0)"},{"offset":0.385,"color":"#2b2b2b"},{"offset":0.3875,"color":"rgba(43,43,43,0)"},{"offset":0.4136,"color":"rgba(43,43,43,0)"},{"offset":0.4161,"color":"#2b2b2b"},{"offset":0.4186,"color":"rgba(43,43,43,0)"},{"offset":0.4447,"color":"rgba(43,43,43,0)"},{"offset":0.4472,"color":"#2b2b2b"},{"offset":0.4497,"color":"rgba(43,43,43,0)"},{"offset":0.4758,"color":"rgba(43,43,43,0)"},{"offset":0.4783,"color":"#2b2b2b"},{"offset":0.4808,"color":"rgba(43,43,43,0)"},{"offset":0.5069,"color":"rgba(43,43,43,0)"},{"offset":0.5094,"color":"#2b2b2b"},{"offset":0.5119,"color":"rgba(43,43,43,0)"},{"offset":0.5379,"color":"rgba(43,43,43,0)"},{"offset":0.5404,"color":"#2b2b2b"},{"offset":0.5429,"color":"rgba(43,43,43,0)"},{"offset":0.569,"color":"rgba(43,43,43,0)"},{"offset":0.5715,"color":"#2b2b2b"},{"offset":0.574,"color":"rgba(43,43,43,0)"},{"offset":0.6001,"color":"rgba(43,43,43,0)"},{"offset":0.6026,"color":"#2b2b2b"},{"offset":0.6051,"color":"rgba(43,43,43,0)"},{"offset":0.6312,"color":"rgba(43,43,43,0)"},{"offset":0.6337,"color":"#2b2b2b"},{"offset":0.6362,"color":"rgba(43,43,43,0)"},{"offset":0.6623,"color":"rgba(43,43,43,0)"},{"offset":0.6648,"color":"#2b2b2b"},{"offset":0.6673,"color":"rgba(43,43,43,0)"},{"offset":0.6934,"color":"rgba(43,43,43,0)"},{"offset":0.6959,"color":"#2b2b2b"},{"offset":0.6984,"color":"rgba(43,43,43,0)"},{"offset":0.7245,"color":"rgba(43,43,43,0)"},{"offset":0.727,"color":"#2b2b2b"},{"offset":0.7295,"color":"rgba(43,43,43,0)"},{"offset":0.7555,"color":"rgba(43,43,43,0)"},{"offset":0.758,"color":"#2b2b2b"},{"offset":0.7605,"color":"rgba(43,43,43,0)"},{"offset":0.7866,"color":"rgba(43,43,43,0)"},{"offset":0.7891,"color":"#2b2b2b"},{"offset":0.7916,"color":"rgba(43,43,43,0)"},{"offset":0.8177,"color":"rgba(43,43,43,0)"},{"offset":0.8202,"color":"#2b2b2b"},{"offset":0.8227,"color":"rgba(43,43,43,0)"},{"offset":0.8488,"color":"rgba(43,43,43,0)"},{"offset":0.8513,"color":"#2b2b2b"},{"offset":0.8538,"color":"rgba(43,43,43,0)"},{"offset":0.8799,"color":"rgba(43,43,43,0)"},{"offset":0.8824,"color":"#2b2b2b"},{"offset":0.8849,"color":"rgba(43,43,43,0)"},{"offset":0.911,"color":"rgba(43,43,43,0)"},{"offset":0.9135,"color":"#2b2b2b"},{"offset":0.916,"color":"rgba(43,43,43,0)"},{"offset":0.9421,"color":"rgba(43,43,43,0)"},{"offset":0.9446,"color":"#2b2b2b"},{"offset":0.9471,"color":"rgba(43,43,43,0)"},{"offset":0.9731,"color":"rgba(43,43,43,0)"},{"offset":0.9756,"color":"#2b2b2b"},{"offset":0.9781,"color":"rgba(43,43,43,0)"}]}},
"encoding":{"x":{"field":"c","type":"nominal"},"xOffset":{"field":"l","type":"nominal"},"y":{"datum":0,"axis":null},"y2":{"datum":16}}},
{"data":{"name":"po"},"transform":[{"filter":{"field":"l","oneOf":["5","25","50"]}}],"mark":{"type":"bar","fill":"white","stroke":"white","strokeWidth":2},
"encoding":{"x":{"field":"c","type":"nominal"},"xOffset":{"field":"l","type":"nominal"},"y":{"field":"v","type":"quantitative","axis":null},"y2":{"datum":16}}},
{"data":{"name":"po"},"mark":{"type":"bar","fillOpacity":0,"stroke":"#3a3a3a","strokeWidth":2},
"encoding":{"x":{"field":"c","type":"nominal"},"xOffset":{"field":"l","type":"nominal"},"y":{"field":"v","type":"quantitative","axis":{"orient":"left","title":null,"values":[0.5,1,1.5,2,3,3.5,4,4.5,5.5,6,6.5,7,8,8.5,9,9.5,10.5,11,11.5,12,13,13.5,14,14.5,15.5,16,16.5,17,18,18.5,19,19.5],"labels":false,"domain":false,"tickSize":-8,"grid":false}}}},
{"data":{"name":"sep"},"mark":{"type":"rule","color":"#ff0000","strokeWidth":4,"strokeDash":[23,23]},
"encoding":{"x":{"field":"c","type":"nominal","bandPosition":1}}}
]
}
],
"resolve":{"scale":{"color":"independent","opacity":"independent"}},
"config":{
"font":"Liberation Serif",
"view":{"stroke":"black","strokeWidth":5},
"axis":{"domainColor":"black","domainWidth":5,"tickColor":"black","tickWidth":3,"labelColor":"black","labelFont":"Liberation Serif","labelFontWeight":"bold","grid":false},
"title":{"font":"Liberation Serif","fontWeight":"bold","fontSize":50,"anchor":"start","frame":"group","baseline":"alphabetic","color":"black"},
"legend":{"strokeWidth":2}
}
}
